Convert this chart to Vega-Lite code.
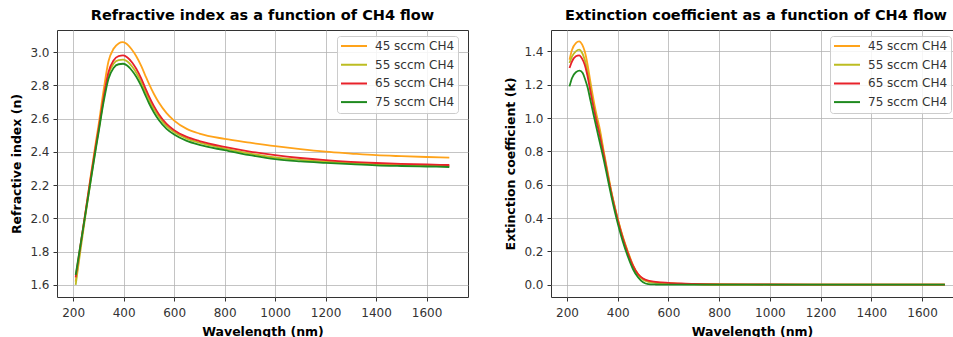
{
  "$schema": "https://vega.github.io/schema/vega-lite/v6.json",
  "padding": {"left": 10, "top": 7, "right": 0, "bottom": 0},
  "spacing": 35,
  "config": {
    "font": "DejaVu Sans",
    "view": {"stroke": "#333333", "strokeWidth": 1},
    "axis": {"domain": false, "grid": true, "gridColor": "#b0b0b0", "gridWidth": 1, "gridOpacity": 0.75, "tickColor": "#333333", "tickSize": 4, "labelFontSize": 12, "labelColor": "#333333", "labelPadding": 6, "titleFontSize": 12.5, "titleFontWeight": "bold", "titleColor": "#000000", "labelFont": "DejaVu Sans", "titleFont": "DejaVu Sans", "titlePadding": 7},
    "axisY": {"titlePadding": 6, "labelPadding": 4},
    "title": {"fontSize": 14.5, "fontWeight": "bold", "font": "DejaVu Sans", "offset": 7, "baseline": "alphabetic", "anchor": "middle", "frame": "group", "color": "#000000"},
    "legend": {"orient": "none", "symbolType": "stroke", "symbolSize": 676, "symbolStrokeWidth": 2, "clipHeight": 14, "rowPadding": 4.7, "padding": 3, "labelOffset": 7, "labelFontSize": 12, "labelFont": "DejaVu Sans", "labelColor": "#333333", "fillColor": "rgba(255,255,255,0.85)", "strokeColor": "#cccccc", "cornerRadius": 3, "title": null}
  },
  "datasets": {
    "n": [
      {"wavelength": 210, "value": 1.62, "series": "45 sccm CH4"},
      {"wavelength": 230, "value": 1.84, "series": "45 sccm CH4"},
      {"wavelength": 250, "value": 2.05, "series": "45 sccm CH4"},
      {"wavelength": 270, "value": 2.26, "series": "45 sccm CH4"},
      {"wavelength": 290, "value": 2.46, "series": "45 sccm CH4"},
      {"wavelength": 300, "value": 2.555, "series": "45 sccm CH4"},
      {"wavelength": 320, "value": 2.765, "series": "45 sccm CH4"},
      {"wavelength": 340, "value": 2.945, "series": "45 sccm CH4"},
      {"wavelength": 360, "value": 3.02, "series": "45 sccm CH4"},
      {"wavelength": 380, "value": 3.052, "series": "45 sccm CH4"},
      {"wavelength": 395, "value": 3.06, "series": "45 sccm CH4"},
      {"wavelength": 410, "value": 3.052, "series": "45 sccm CH4"},
      {"wavelength": 430, "value": 3.02, "series": "45 sccm CH4"},
      {"wavelength": 450, "value": 2.975, "series": "45 sccm CH4"},
      {"wavelength": 470, "value": 2.915, "series": "45 sccm CH4"},
      {"wavelength": 485, "value": 2.862, "series": "45 sccm CH4"},
      {"wavelength": 500, "value": 2.81, "series": "45 sccm CH4"},
      {"wavelength": 520, "value": 2.748, "series": "45 sccm CH4"},
      {"wavelength": 540, "value": 2.695, "series": "45 sccm CH4"},
      {"wavelength": 570, "value": 2.633, "series": "45 sccm CH4"},
      {"wavelength": 600, "value": 2.588, "series": "45 sccm CH4"},
      {"wavelength": 650, "value": 2.538, "series": "45 sccm CH4"},
      {"wavelength": 700, "value": 2.51, "series": "45 sccm CH4"},
      {"wavelength": 800, "value": 2.478, "series": "45 sccm CH4"},
      {"wavelength": 900, "value": 2.455, "series": "45 sccm CH4"},
      {"wavelength": 1000, "value": 2.434, "series": "45 sccm CH4"},
      {"wavelength": 1100, "value": 2.416, "series": "45 sccm CH4"},
      {"wavelength": 1200, "value": 2.401, "series": "45 sccm CH4"},
      {"wavelength": 1300, "value": 2.39, "series": "45 sccm CH4"},
      {"wavelength": 1400, "value": 2.38, "series": "45 sccm CH4"},
      {"wavelength": 1500, "value": 2.374, "series": "45 sccm CH4"},
      {"wavelength": 1600, "value": 2.369, "series": "45 sccm CH4"},
      {"wavelength": 1690, "value": 2.365, "series": "45 sccm CH4"},

      {"wavelength": 210, "value": 1.6, "series": "55 sccm CH4"},
      {"wavelength": 230, "value": 1.82, "series": "55 sccm CH4"},
      {"wavelength": 250, "value": 2.03, "series": "55 sccm CH4"},
      {"wavelength": 270, "value": 2.235, "series": "55 sccm CH4"},
      {"wavelength": 290, "value": 2.43, "series": "55 sccm CH4"},
      {"wavelength": 300, "value": 2.52, "series": "55 sccm CH4"},
      {"wavelength": 320, "value": 2.71, "series": "55 sccm CH4"},
      {"wavelength": 340, "value": 2.865, "series": "55 sccm CH4"},
      {"wavelength": 360, "value": 2.93, "series": "55 sccm CH4"},
      {"wavelength": 380, "value": 2.952, "series": "55 sccm CH4"},
      {"wavelength": 398, "value": 2.955, "series": "55 sccm CH4"},
      {"wavelength": 415, "value": 2.943, "series": "55 sccm CH4"},
      {"wavelength": 435, "value": 2.91, "series": "55 sccm CH4"},
      {"wavelength": 450, "value": 2.876, "series": "55 sccm CH4"},
      {"wavelength": 470, "value": 2.818, "series": "55 sccm CH4"},
      {"wavelength": 485, "value": 2.766, "series": "55 sccm CH4"},
      {"wavelength": 500, "value": 2.715, "series": "55 sccm CH4"},
      {"wavelength": 520, "value": 2.657, "series": "55 sccm CH4"},
      {"wavelength": 540, "value": 2.61, "series": "55 sccm CH4"},
      {"wavelength": 570, "value": 2.555, "series": "55 sccm CH4"},
      {"wavelength": 600, "value": 2.519, "series": "55 sccm CH4"},
      {"wavelength": 650, "value": 2.48, "series": "55 sccm CH4"},
      {"wavelength": 700, "value": 2.455, "series": "55 sccm CH4"},
      {"wavelength": 800, "value": 2.42, "series": "55 sccm CH4"},
      {"wavelength": 900, "value": 2.39, "series": "55 sccm CH4"},
      {"wavelength": 1000, "value": 2.366, "series": "55 sccm CH4"},
      {"wavelength": 1100, "value": 2.352, "series": "55 sccm CH4"},
      {"wavelength": 1200, "value": 2.341, "series": "55 sccm CH4"},
      {"wavelength": 1300, "value": 2.333, "series": "55 sccm CH4"},
      {"wavelength": 1400, "value": 2.326, "series": "55 sccm CH4"},
      {"wavelength": 1500, "value": 2.321, "series": "55 sccm CH4"},
      {"wavelength": 1600, "value": 2.318, "series": "55 sccm CH4"},
      {"wavelength": 1690, "value": 2.315, "series": "55 sccm CH4"},

      {"wavelength": 210, "value": 1.645, "series": "65 sccm CH4"},
      {"wavelength": 230, "value": 1.85, "series": "65 sccm CH4"},
      {"wavelength": 250, "value": 2.05, "series": "65 sccm CH4"},
      {"wavelength": 270, "value": 2.25, "series": "65 sccm CH4"},
      {"wavelength": 290, "value": 2.44, "series": "65 sccm CH4"},
      {"wavelength": 300, "value": 2.53, "series": "65 sccm CH4"},
      {"wavelength": 320, "value": 2.72, "series": "65 sccm CH4"},
      {"wavelength": 340, "value": 2.88, "series": "65 sccm CH4"},
      {"wavelength": 360, "value": 2.95, "series": "65 sccm CH4"},
      {"wavelength": 380, "value": 2.976, "series": "65 sccm CH4"},
      {"wavelength": 398, "value": 2.98, "series": "65 sccm CH4"},
      {"wavelength": 415, "value": 2.968, "series": "65 sccm CH4"},
      {"wavelength": 435, "value": 2.935, "series": "65 sccm CH4"},
      {"wavelength": 450, "value": 2.9, "series": "65 sccm CH4"},
      {"wavelength": 470, "value": 2.84, "series": "65 sccm CH4"},
      {"wavelength": 485, "value": 2.787, "series": "65 sccm CH4"},
      {"wavelength": 500, "value": 2.735, "series": "65 sccm CH4"},
      {"wavelength": 520, "value": 2.675, "series": "65 sccm CH4"},
      {"wavelength": 540, "value": 2.625, "series": "65 sccm CH4"},
      {"wavelength": 570, "value": 2.568, "series": "65 sccm CH4"},
      {"wavelength": 600, "value": 2.53, "series": "65 sccm CH4"},
      {"wavelength": 650, "value": 2.49, "series": "65 sccm CH4"},
      {"wavelength": 700, "value": 2.465, "series": "65 sccm CH4"},
      {"wavelength": 800, "value": 2.43, "series": "65 sccm CH4"},
      {"wavelength": 900, "value": 2.402, "series": "65 sccm CH4"},
      {"wavelength": 1000, "value": 2.38, "series": "65 sccm CH4"},
      {"wavelength": 1100, "value": 2.363, "series": "65 sccm CH4"},
      {"wavelength": 1200, "value": 2.35, "series": "65 sccm CH4"},
      {"wavelength": 1300, "value": 2.34, "series": "65 sccm CH4"},
      {"wavelength": 1400, "value": 2.333, "series": "65 sccm CH4"},
      {"wavelength": 1500, "value": 2.328, "series": "65 sccm CH4"},
      {"wavelength": 1600, "value": 2.324, "series": "65 sccm CH4"},
      {"wavelength": 1690, "value": 2.321, "series": "65 sccm CH4"},

      {"wavelength": 210, "value": 1.66, "series": "75 sccm CH4"},
      {"wavelength": 230, "value": 1.85, "series": "75 sccm CH4"},
      {"wavelength": 250, "value": 2.04, "series": "75 sccm CH4"},
      {"wavelength": 270, "value": 2.23, "series": "75 sccm CH4"},
      {"wavelength": 290, "value": 2.42, "series": "75 sccm CH4"},
      {"wavelength": 300, "value": 2.51, "series": "75 sccm CH4"},
      {"wavelength": 320, "value": 2.695, "series": "75 sccm CH4"},
      {"wavelength": 340, "value": 2.84, "series": "75 sccm CH4"},
      {"wavelength": 360, "value": 2.905, "series": "75 sccm CH4"},
      {"wavelength": 380, "value": 2.927, "series": "75 sccm CH4"},
      {"wavelength": 398, "value": 2.93, "series": "75 sccm CH4"},
      {"wavelength": 415, "value": 2.918, "series": "75 sccm CH4"},
      {"wavelength": 435, "value": 2.885, "series": "75 sccm CH4"},
      {"wavelength": 450, "value": 2.852, "series": "75 sccm CH4"},
      {"wavelength": 470, "value": 2.795, "series": "75 sccm CH4"},
      {"wavelength": 485, "value": 2.744, "series": "75 sccm CH4"},
      {"wavelength": 500, "value": 2.694, "series": "75 sccm CH4"},
      {"wavelength": 520, "value": 2.637, "series": "75 sccm CH4"},
      {"wavelength": 540, "value": 2.59, "series": "75 sccm CH4"},
      {"wavelength": 570, "value": 2.538, "series": "75 sccm CH4"},
      {"wavelength": 600, "value": 2.504, "series": "75 sccm CH4"},
      {"wavelength": 650, "value": 2.466, "series": "75 sccm CH4"},
      {"wavelength": 700, "value": 2.442, "series": "75 sccm CH4"},
      {"wavelength": 800, "value": 2.41, "series": "75 sccm CH4"},
      {"wavelength": 900, "value": 2.38, "series": "75 sccm CH4"},
      {"wavelength": 1000, "value": 2.356, "series": "75 sccm CH4"},
      {"wavelength": 1100, "value": 2.343, "series": "75 sccm CH4"},
      {"wavelength": 1200, "value": 2.334, "series": "75 sccm CH4"},
      {"wavelength": 1300, "value": 2.326, "series": "75 sccm CH4"},
      {"wavelength": 1400, "value": 2.319, "series": "75 sccm CH4"},
      {"wavelength": 1500, "value": 2.315, "series": "75 sccm CH4"},
      {"wavelength": 1600, "value": 2.312, "series": "75 sccm CH4"},
      {"wavelength": 1690, "value": 2.309, "series": "75 sccm CH4"}
    ],
    "k": [
      {"wavelength": 210, "value": 1.35, "series": "45 sccm CH4"},
      {"wavelength": 220, "value": 1.41, "series": "45 sccm CH4"},
      {"wavelength": 235, "value": 1.45, "series": "45 sccm CH4"},
      {"wavelength": 248, "value": 1.46, "series": "45 sccm CH4"},
      {"wavelength": 260, "value": 1.44, "series": "45 sccm CH4"},
      {"wavelength": 270, "value": 1.4, "series": "45 sccm CH4"},
      {"wavelength": 280, "value": 1.33, "series": "45 sccm CH4"},
      {"wavelength": 290, "value": 1.24, "series": "45 sccm CH4"},
      {"wavelength": 300, "value": 1.15, "series": "45 sccm CH4"},
      {"wavelength": 315, "value": 1.03, "series": "45 sccm CH4"},
      {"wavelength": 330, "value": 0.93, "series": "45 sccm CH4"},
      {"wavelength": 345, "value": 0.8, "series": "45 sccm CH4"},
      {"wavelength": 360, "value": 0.68, "series": "45 sccm CH4"},
      {"wavelength": 375, "value": 0.56, "series": "45 sccm CH4"},
      {"wavelength": 390, "value": 0.46, "series": "45 sccm CH4"},
      {"wavelength": 405, "value": 0.37, "series": "45 sccm CH4"},
      {"wavelength": 420, "value": 0.29, "series": "45 sccm CH4"},
      {"wavelength": 440, "value": 0.2, "series": "45 sccm CH4"},
      {"wavelength": 460, "value": 0.12, "series": "45 sccm CH4"},
      {"wavelength": 480, "value": 0.065, "series": "45 sccm CH4"},
      {"wavelength": 500, "value": 0.035, "series": "45 sccm CH4"},
      {"wavelength": 520, "value": 0.022, "series": "45 sccm CH4"},
      {"wavelength": 550, "value": 0.015, "series": "45 sccm CH4"},
      {"wavelength": 600, "value": 0.01, "series": "45 sccm CH4"},
      {"wavelength": 650, "value": 0.006, "series": "45 sccm CH4"},
      {"wavelength": 700, "value": 0.004, "series": "45 sccm CH4"},
      {"wavelength": 800, "value": 0.002, "series": "45 sccm CH4"},
      {"wavelength": 1000, "value": 0.001, "series": "45 sccm CH4"},
      {"wavelength": 1300, "value": 0.001, "series": "45 sccm CH4"},
      {"wavelength": 1690, "value": 0.001, "series": "45 sccm CH4"},

      {"wavelength": 210, "value": 1.33, "series": "55 sccm CH4"},
      {"wavelength": 220, "value": 1.37, "series": "55 sccm CH4"},
      {"wavelength": 235, "value": 1.4, "series": "55 sccm CH4"},
      {"wavelength": 248, "value": 1.41, "series": "55 sccm CH4"},
      {"wavelength": 260, "value": 1.39, "series": "55 sccm CH4"},
      {"wavelength": 270, "value": 1.35, "series": "55 sccm CH4"},
      {"wavelength": 280, "value": 1.29, "series": "55 sccm CH4"},
      {"wavelength": 290, "value": 1.21, "series": "55 sccm CH4"},
      {"wavelength": 300, "value": 1.12, "series": "55 sccm CH4"},
      {"wavelength": 315, "value": 1.01, "series": "55 sccm CH4"},
      {"wavelength": 330, "value": 0.91, "series": "55 sccm CH4"},
      {"wavelength": 345, "value": 0.79, "series": "55 sccm CH4"},
      {"wavelength": 360, "value": 0.67, "series": "55 sccm CH4"},
      {"wavelength": 375, "value": 0.555, "series": "55 sccm CH4"},
      {"wavelength": 390, "value": 0.455, "series": "55 sccm CH4"},
      {"wavelength": 405, "value": 0.365, "series": "55 sccm CH4"},
      {"wavelength": 420, "value": 0.285, "series": "55 sccm CH4"},
      {"wavelength": 440, "value": 0.195, "series": "55 sccm CH4"},
      {"wavelength": 460, "value": 0.115, "series": "55 sccm CH4"},
      {"wavelength": 480, "value": 0.06, "series": "55 sccm CH4"},
      {"wavelength": 500, "value": 0.03, "series": "55 sccm CH4"},
      {"wavelength": 520, "value": 0.018, "series": "55 sccm CH4"},
      {"wavelength": 550, "value": 0.012, "series": "55 sccm CH4"},
      {"wavelength": 600, "value": 0.008, "series": "55 sccm CH4"},
      {"wavelength": 650, "value": 0.005, "series": "55 sccm CH4"},
      {"wavelength": 700, "value": 0.003, "series": "55 sccm CH4"},
      {"wavelength": 800, "value": 0.002, "series": "55 sccm CH4"},
      {"wavelength": 1000, "value": 0.001, "series": "55 sccm CH4"},
      {"wavelength": 1300, "value": 0.001, "series": "55 sccm CH4"},
      {"wavelength": 1690, "value": 0.001, "series": "55 sccm CH4"},

      {"wavelength": 210, "value": 1.3, "series": "65 sccm CH4"},
      {"wavelength": 220, "value": 1.34, "series": "65 sccm CH4"},
      {"wavelength": 235, "value": 1.37, "series": "65 sccm CH4"},
      {"wavelength": 248, "value": 1.376, "series": "65 sccm CH4"},
      {"wavelength": 260, "value": 1.355, "series": "65 sccm CH4"},
      {"wavelength": 270, "value": 1.32, "series": "65 sccm CH4"},
      {"wavelength": 280, "value": 1.26, "series": "65 sccm CH4"},
      {"wavelength": 290, "value": 1.18, "series": "65 sccm CH4"},
      {"wavelength": 300, "value": 1.1, "series": "65 sccm CH4"},
      {"wavelength": 315, "value": 0.99, "series": "65 sccm CH4"},
      {"wavelength": 330, "value": 0.89, "series": "65 sccm CH4"},
      {"wavelength": 345, "value": 0.78, "series": "65 sccm CH4"},
      {"wavelength": 360, "value": 0.66, "series": "65 sccm CH4"},
      {"wavelength": 375, "value": 0.55, "series": "65 sccm CH4"},
      {"wavelength": 390, "value": 0.45, "series": "65 sccm CH4"},
      {"wavelength": 405, "value": 0.36, "series": "65 sccm CH4"},
      {"wavelength": 420, "value": 0.28, "series": "65 sccm CH4"},
      {"wavelength": 440, "value": 0.19, "series": "65 sccm CH4"},
      {"wavelength": 460, "value": 0.115, "series": "65 sccm CH4"},
      {"wavelength": 480, "value": 0.065, "series": "65 sccm CH4"},
      {"wavelength": 500, "value": 0.038, "series": "65 sccm CH4"},
      {"wavelength": 520, "value": 0.025, "series": "65 sccm CH4"},
      {"wavelength": 550, "value": 0.018, "series": "65 sccm CH4"},
      {"wavelength": 600, "value": 0.012, "series": "65 sccm CH4"},
      {"wavelength": 650, "value": 0.008, "series": "65 sccm CH4"},
      {"wavelength": 700, "value": 0.005, "series": "65 sccm CH4"},
      {"wavelength": 800, "value": 0.003, "series": "65 sccm CH4"},
      {"wavelength": 1000, "value": 0.002, "series": "65 sccm CH4"},
      {"wavelength": 1300, "value": 0.001, "series": "65 sccm CH4"},
      {"wavelength": 1690, "value": 0.001, "series": "65 sccm CH4"},

      {"wavelength": 210, "value": 1.19, "series": "75 sccm CH4"},
      {"wavelength": 220, "value": 1.24, "series": "75 sccm CH4"},
      {"wavelength": 235, "value": 1.275, "series": "75 sccm CH4"},
      {"wavelength": 250, "value": 1.284, "series": "75 sccm CH4"},
      {"wavelength": 262, "value": 1.27, "series": "75 sccm CH4"},
      {"wavelength": 272, "value": 1.23, "series": "75 sccm CH4"},
      {"wavelength": 282, "value": 1.18, "series": "75 sccm CH4"},
      {"wavelength": 292, "value": 1.11, "series": "75 sccm CH4"},
      {"wavelength": 302, "value": 1.04, "series": "75 sccm CH4"},
      {"wavelength": 315, "value": 0.95, "series": "75 sccm CH4"},
      {"wavelength": 330, "value": 0.85, "series": "75 sccm CH4"},
      {"wavelength": 345, "value": 0.75, "series": "75 sccm CH4"},
      {"wavelength": 360, "value": 0.64, "series": "75 sccm CH4"},
      {"wavelength": 375, "value": 0.53, "series": "75 sccm CH4"},
      {"wavelength": 390, "value": 0.43, "series": "75 sccm CH4"},
      {"wavelength": 405, "value": 0.34, "series": "75 sccm CH4"},
      {"wavelength": 420, "value": 0.26, "series": "75 sccm CH4"},
      {"wavelength": 440, "value": 0.17, "series": "75 sccm CH4"},
      {"wavelength": 460, "value": 0.095, "series": "75 sccm CH4"},
      {"wavelength": 480, "value": 0.045, "series": "75 sccm CH4"},
      {"wavelength": 500, "value": 0.015, "series": "75 sccm CH4"},
      {"wavelength": 520, "value": 0.004, "series": "75 sccm CH4"},
      {"wavelength": 550, "value": 0.002, "series": "75 sccm CH4"},
      {"wavelength": 600, "value": 0.001, "series": "75 sccm CH4"},
      {"wavelength": 700, "value": 0.001, "series": "75 sccm CH4"},
      {"wavelength": 1000, "value": 0.001, "series": "75 sccm CH4"},
      {"wavelength": 1300, "value": 0.001, "series": "75 sccm CH4"},
      {"wavelength": 1690, "value": 0.001, "series": "75 sccm CH4"}
    ]
  },
  "resolve": {"scale": {"color": "independent"}, "legend": {"color": "independent"}},
  "hconcat": [
    {
      "width": 411,
      "height": 267,
      "title": {"text": "Refractive index as a function of CH4 flow"},
      "data": {"name": "n"},
      "mark": {"type": "line", "strokeWidth": 1.8, "interpolate": "monotone", "clip": true},
      "encoding": {
        "x": {"field": "wavelength", "type": "quantitative", "title": "Wavelength (nm)",
              "scale": {"domain": [136, 1764], "nice": false, "zero": false},
              "axis": {"values": [200, 400, 600, 800, 1000, 1200, 1400, 1600], "format": "d"}},
        "y": {"field": "value", "type": "quantitative", "title": "Refractive index (n)",
              "scale": {"domain": [1.527, 3.133], "nice": false, "zero": false},
              "axis": {"values": [1.6, 1.8, 2.0, 2.2, 2.4, 2.6, 2.8, 3.0], "format": ".1f"}},
        "color": {"field": "series", "type": "nominal",
                  "scale": {"domain": ["45 sccm CH4", "55 sccm CH4", "65 sccm CH4", "75 sccm CH4"], "range": ["#ffa31a", "#bcbd22", "#e8222a", "#1f8a1f"]},
                  "legend": {"legendX": 280, "legendY": 6}}
      }
    },
    {
      "width": 402,
      "height": 267,
      "title": {"text": "Extinction coefficient as a function of CH4 flow", "dx": 4},
      "data": {"name": "k"},
      "mark": {"type": "line", "strokeWidth": 1.8, "interpolate": "monotone", "clip": true},
      "encoding": {
        "x": {"field": "wavelength", "type": "quantitative", "title": "Wavelength (nm)",
              "scale": {"domain": [137, 1722], "nice": false, "zero": false},
              "axis": {"values": [200, 400, 600, 800, 1000, 1200, 1400, 1600], "format": "d"}},
        "y": {"field": "value", "type": "quantitative", "title": "Extinction coefficient (k)",
              "scale": {"domain": [-0.073, 1.528], "nice": false, "zero": false},
              "axis": {"values": [0.0, 0.2, 0.4, 0.6, 0.8, 1.0, 1.2, 1.4], "format": ".1f"}},
        "color": {"field": "series", "type": "nominal",
                  "scale": {"domain": ["45 sccm CH4", "55 sccm CH4", "65 sccm CH4", "75 sccm CH4"], "range": ["#ffa31a", "#bcbd22", "#e8222a", "#1f8a1f"]},
                  "legend": {"legendX": 279, "legendY": 6}}
      }
    }
  ]
}
